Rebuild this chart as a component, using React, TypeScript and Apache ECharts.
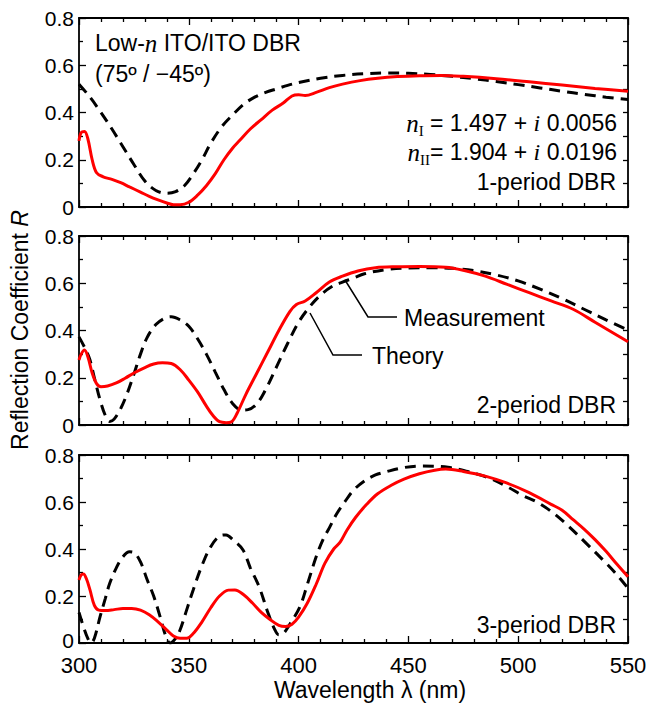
import React, { useEffect, useRef } from "react";
import * as echarts from "echarts";

const FONT = "'Liberation Sans', Arial, Helvetica, sans-serif";
const SERIF = "'Liberation Serif', 'Times New Roman', serif";

// ---------- data ----------
const xMin = 300;
const xMax = 550;
const yMin = 0;
const yMax = 0.8;

// Panel 1 (1-period DBR)
const p1MeasX = [300, 301, 302.5, 304, 306, 308, 311, 315, 319, 323, 328, 332, 336, 340, 343, 346, 350, 354, 358, 362, 366, 370, 373, 378, 383, 388, 393, 397, 400, 403, 408, 414, 420, 428, 436, 445, 455, 465, 475, 490, 505, 520, 535, 550];
const p1MeasY = [0.28, 0.315, 0.32, 0.29, 0.2, 0.145, 0.128, 0.117, 0.103, 0.085, 0.063, 0.045, 0.03, 0.017, 0.01, 0.01, 0.02, 0.05, 0.09, 0.14, 0.2, 0.25, 0.28, 0.33, 0.37, 0.41, 0.44, 0.47, 0.475, 0.472, 0.485, 0.505, 0.52, 0.535, 0.545, 0.552, 0.556, 0.557, 0.553, 0.543, 0.53, 0.516, 0.502, 0.49];
const p1TheoX = [300, 305, 310, 315, 320, 325, 330, 335, 340, 344, 348, 352, 356, 360, 365, 370, 375, 380, 385, 390, 395, 400, 410, 420, 430, 440, 450, 460, 470, 480, 490, 500, 510, 520, 530, 540, 550];
const p1TheoY = [0.52, 0.465, 0.4, 0.33, 0.255, 0.18, 0.11, 0.07, 0.058, 0.065, 0.09, 0.14, 0.2, 0.27, 0.34, 0.39, 0.435, 0.465, 0.485, 0.5, 0.515, 0.527, 0.545, 0.557, 0.564, 0.567, 0.566, 0.561, 0.553, 0.543, 0.531, 0.518, 0.504, 0.49, 0.477, 0.465, 0.455];

// Panel 2 (2-period DBR)
const p2MeasX = [300, 301, 302.5, 304, 306, 308, 310, 313, 317, 321, 325, 330, 334, 338, 342, 346, 350, 354, 358, 361, 364, 367, 369.5, 372, 376, 381, 386, 391, 396, 399, 403, 408, 414, 420, 427, 435, 445, 455, 467, 475, 485, 495, 505, 515, 525, 535, 545, 550];
const p2MeasY = [0.275, 0.3, 0.317, 0.29, 0.22, 0.175, 0.162, 0.165, 0.178, 0.198, 0.22, 0.243, 0.258, 0.263, 0.26, 0.235, 0.19, 0.14, 0.08, 0.04, 0.014, 0.01, 0.014, 0.05, 0.13, 0.22, 0.31, 0.4, 0.48, 0.51, 0.525, 0.56, 0.605, 0.63, 0.652, 0.666, 0.67, 0.671, 0.668, 0.655, 0.63, 0.595, 0.56, 0.525, 0.49, 0.435, 0.38, 0.352];
const p2TheoX = [300, 303, 305, 307, 309.6, 312, 314, 316, 319, 322, 325, 328, 331, 335, 339, 342, 346, 350, 354, 358, 362, 366, 370, 374, 377, 381, 385, 390, 395, 400, 405, 410, 415, 420, 425, 430, 440, 450, 460, 470, 480, 490, 500, 510, 520, 530, 540, 550];
const p2TheoY = [0.373, 0.32, 0.275, 0.2, 0.106, 0.04, 0.015, 0.025, 0.07, 0.135, 0.215, 0.3, 0.37, 0.425, 0.452, 0.458, 0.445, 0.418, 0.365, 0.3, 0.225, 0.15, 0.09, 0.063, 0.065, 0.09, 0.15, 0.247, 0.345, 0.435, 0.5, 0.55, 0.585, 0.605, 0.622, 0.64, 0.658, 0.665, 0.666, 0.663, 0.653, 0.635, 0.61, 0.575, 0.535, 0.49, 0.445, 0.402];

// Panel 3 (3-period DBR)
const p3MeasX = [300, 301, 302, 303.5, 305, 307, 309, 312, 316, 320, 324, 328, 332, 336, 340, 343, 346, 349, 352, 356, 360, 364, 368, 371, 375, 379, 383, 387, 391, 394, 397, 400, 404, 408, 412, 416, 419, 422, 426, 431, 436, 442, 448, 455, 462, 467, 475, 485, 495, 505, 515, 520, 525, 530, 535, 540, 545, 550];
const p3MeasY = [0.268, 0.29, 0.294, 0.27, 0.226, 0.16, 0.14, 0.138, 0.142, 0.147, 0.147, 0.14, 0.12, 0.09, 0.055, 0.03, 0.02, 0.02, 0.04, 0.09, 0.15, 0.2, 0.225, 0.226, 0.205, 0.17, 0.13, 0.1, 0.075, 0.07, 0.08, 0.11, 0.17, 0.25, 0.34, 0.4, 0.43, 0.48, 0.535, 0.59, 0.635, 0.67, 0.697, 0.72, 0.735, 0.74, 0.73, 0.71, 0.68, 0.64, 0.59, 0.565, 0.525, 0.485, 0.44, 0.39, 0.335, 0.282];
const p3TheoX = [300, 302, 304, 305.5, 307, 309.6, 312, 314, 317, 320, 323, 325, 328, 331, 334, 337, 339.5, 341.5, 344, 346, 349, 352, 356, 360, 364, 367, 370, 374.7, 378, 382, 386, 389, 391, 393, 396, 400.6, 404, 408, 411, 414, 417.5, 421, 425, 430, 435, 440, 447, 455, 462, 468, 476, 486, 495, 502, 508.5, 515, 522, 531, 540, 545, 550];
const p3TheoY = [0.13, 0.07, 0.02, 0.0, 0.02, 0.112, 0.19, 0.254, 0.32, 0.367, 0.388, 0.385, 0.345, 0.27, 0.2, 0.11, 0.03, 0.0, 0.02, 0.055, 0.14, 0.226, 0.33, 0.41, 0.455, 0.46, 0.44, 0.396, 0.32, 0.24, 0.13, 0.06, 0.035, 0.04, 0.08, 0.154, 0.25, 0.367, 0.438, 0.49, 0.552, 0.6, 0.65, 0.69, 0.715, 0.729, 0.745, 0.753, 0.752, 0.748, 0.732, 0.705, 0.665, 0.628, 0.6, 0.56, 0.505, 0.424, 0.34, 0.29, 0.233];

const panelLabels = ["1-period DBR", "2-period DBR", "3-period DBR"];

// ---------- layout ----------
const W = 651;
const H = 704;
const gridLeft = 79;
const gridRight = 23;
const gridTops = [18, 236, 455];
const gridHeights = [189, 189, 188];

const zip = (xs: number[], ys: number[]) => xs.map((x, i) => [x, ys[i]]);

const measured = [zip(p1MeasX, p1MeasY), zip(p2MeasX, p2MeasY), zip(p3MeasX, p3MeasY)];
const theory = [zip(p1TheoX, p1TheoY), zip(p2TheoX, p2TheoY), zip(p3TheoX, p3TheoY)];

const lineCol = { color: "#000", width: 1.8 };
const tickCol = { color: "#000", width: 1.3 };

function xAxis(gi: number, pos: "top" | "bottom", showLabel: boolean) {
  return {
    type: "value",
    gridIndex: gi,
    position: pos,
    min: xMin,
    max: xMax,
    interval: 50,
    axisLine: { show: true, onZero: false, lineStyle: lineCol },
    axisTick: { show: true, inside: true, length: 7, lineStyle: tickCol },
    minorTick: { show: true, splitNumber: 5, length: 4, lineStyle: tickCol },
    splitLine: { show: false },
    minorSplitLine: { show: false },
    axisLabel: {
      show: showLabel,
      fontSize: 22,
      lineHeight: 18,
      fontFamily: FONT,
      color: "#000",
      margin: 13,
    },
  };
}

function yAxis(gi: number, pos: "left" | "right", showLabel: boolean) {
  const lastPanel = gi === 2;
  return {
    type: "value",
    gridIndex: gi,
    position: pos,
    min: yMin,
    max: yMax,
    interval: 0.2,
    axisLine: { show: true, onZero: false, lineStyle: lineCol },
    axisTick: { show: true, inside: true, length: pos === "left" ? 7 : 5, lineStyle: tickCol },
    minorTick: { show: true, splitNumber: 2, length: pos === "left" ? 4 : 5, lineStyle: tickCol },
    splitLine: { show: false },
    minorSplitLine: { show: false },
    axisLabel: {
      show: showLabel,
      fontSize: 21,
      lineHeight: 16,
      fontFamily: FONT,
      color: "#000",
      margin: 5,
      formatter: (v: number) => (v === 0 ? (lastPanel ? "{z|0}" : "0") : v.toFixed(1)),
      rich: {
        z: { fontSize: 21, lineHeight: 16, fontFamily: FONT, color: "#000", padding: [0, 0, 6, 0] },
      },
    },
  };
}

const annFont = 23;
const richBase = {
  t: { fontSize: annFont, fontFamily: FONT, fill: "#000", lineHeight: 30 },
  n: { fontSize: 25, fontFamily: SERIF, fontStyle: "italic", fill: "#000", lineHeight: 30 },
  i: { fontSize: 24, fontFamily: SERIF, fontStyle: "italic", fill: "#000", lineHeight: 30 },
  sub: { fontSize: 15, fontFamily: SERIF, fill: "#000", lineHeight: 15, verticalAlign: "bottom" },
};

function txt(x: number, y: number, text: string, align: string, extra: any = {}) {
  return {
    type: "text",
    x,
    y,
    silent: true,
    style: {
      text,
      fill: "#000",
      fontSize: annFont,
      fontFamily: FONT,
      align,
      verticalAlign: "middle",
      ...extra,
    },
  };
}

export default function App() {
  const ref = useRef<HTMLDivElement>(null);

  useEffect(() => {
    if (!ref.current) return;
    const chart = echarts.init(ref.current, undefined, { renderer: "svg" });

    const grids = gridTops.map((top, i) => ({
      left: gridLeft,
      right: gridRight,
      top,
      height: gridHeights[i],
      containLabel: false,
    }));

    const xAxes: any[] = [];
    const yAxes: any[] = [];
    for (let i = 0; i < 3; i++) {
      xAxes.push(xAxis(i, "bottom", i === 2));
      xAxes.push(xAxis(i, "top", false));
      yAxes.push(yAxis(i, "left", true));
      yAxes.push(yAxis(i, "right", false));
    }

    const series: any[] = [];
    for (let i = 0; i < 3; i++) {
      series.push({
        name: "Theory " + (i + 1),
        type: "line",
        xAxisIndex: 2 * i,
        yAxisIndex: 2 * i,
        data: theory[i],
        symbol: "none",
        smooth: 0.35,
        z: 2,
        lineStyle: { color: "#000", width: 3, type: [11, 7], cap: "butt" },
      });
      series.push({
        name: "Measurement " + (i + 1),
        type: "line",
        xAxisIndex: 2 * i,
        yAxisIndex: 2 * i,
        data: measured[i],
        symbol: "none",
        smooth: 0.35,
        z: 3,
        lineStyle: { color: "#ff0000", width: 3 },
      });
    }

    const graphic: any[] = [
      // y-axis title
      {
        type: "text",
        x: 20,
        y: 330,
        rotation: Math.PI / 2,
        silent: true,
        style: {
          text: "{a|Reflection Coefficient }{b|R}",
          align: "center",
          verticalAlign: "middle",
          rich: {
            a: { fontSize: 23, fontFamily: FONT, fill: "#000" },
            b: { fontSize: 23, fontFamily: FONT, fontStyle: "italic", fill: "#000" },
          },
        },
      },
      // x-axis title
      txt(370, 690, "Wavelength λ (nm)", "center"),
      // panel 1 annotations
      txt(95, 43, "{t|Low-}{n|n}{t| ITO/ITO DBR}", "left", { rich: richBase }),
      txt(95, 74, "(75º / −45º)", "left"),
      txt(617, 123, "{n|n}{sub|I}{t| = 1.497 + }{i|i}{t| 0.0056}", "right", { rich: richBase }),
      txt(617, 152, "{n|n}{sub|II}{t|= 1.904 + }{i|i}{t| 0.0196}", "right", { rich: richBase }),
      txt(616, 182, panelLabels[0], "right"),
      txt(616, 405, panelLabels[1], "right"),
      txt(616, 625, panelLabels[2], "right"),
      // panel 2 leaders
      txt(404, 318, "Measurement", "left"),
      txt(372, 356, "Theory", "left"),
      {
        type: "polyline",
        silent: true,
        shape: { points: [[345, 280], [368, 317], [397, 317]] },
        style: { stroke: "#000", lineWidth: 1.5, fill: null },
      },
      {
        type: "polyline",
        silent: true,
        shape: { points: [[310, 313], [333, 355], [362, 355]] },
        style: { stroke: "#000", lineWidth: 1.5, fill: null },
      },
    ];

    chart.setOption({
      animation: false,
      backgroundColor: "#fff",
      textStyle: { fontFamily: FONT },
      grid: grids,
      xAxis: xAxes,
      yAxis: yAxes,
      series,
      graphic,
    });

    return () => chart.dispose();
  }, []);

  return (
    <div
      ref={ref}
      style={{ position: "absolute", left: 0, top: 0, width: W, height: H, background: "#fff" }}
    />
  );
}
